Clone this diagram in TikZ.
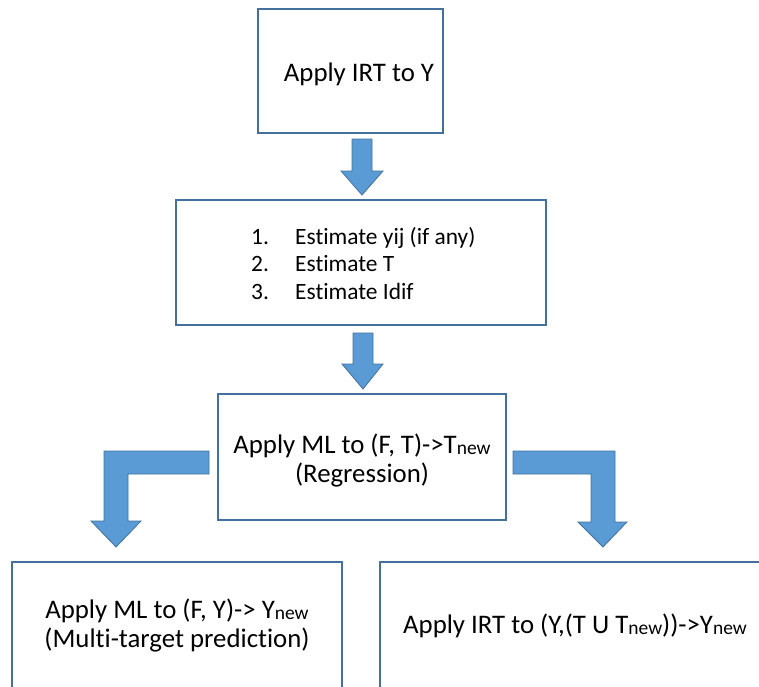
\documentclass[tikz,border=0pt]{standalone}
\usepackage{fontspec}
\setmainfont{Carlito}[Ligatures={NoCommon}]
\definecolor{boxline}{HTML}{41719C}
\definecolor{arrowfill}{HTML}{5B9BD5}
\definecolor{arrowline}{HTML}{41719C}
% small lowered "new" index used in the labels
\newcommand{\lowsub}[1]{\raisebox{-1.5pt}{\fontsize{19.5}{21}\selectfont #1}}
\begin{document}
\begin{tikzpicture}[x=1pt,y=-1pt,
  box/.style={draw=boxline, line width=1.3pt, fill=white, inner sep=0pt},
  blockarrow/.style={fill=arrowfill, draw=arrowline, line width=0.8pt, line join=miter},
  bigtxt/.style={font=\fontsize{26.8}{30}\selectfont, inner sep=0pt, anchor=base},
  listtxt/.style={font=\fontsize{23.4}{27}\selectfont, inner sep=0pt, anchor=base west}]

\useasboundingbox (0,0) rectangle (759,686);
\clip (0,0) rectangle (759,686);

% boxes (the two lower ones run past the bottom edge)
\node[box, minimum width=185pt, minimum height=124pt] (irt) at (350.5,71) {};
\node[box, minimum width=370pt, minimum height=125pt] (est) at (361,262.5) {};
\node[box, minimum width=288pt, minimum height=126pt] (reg) at (362,457) {};
\node[box, minimum width=330pt, minimum height=150pt] (mtp) at (177,637) {};
\node[box, minimum width=390pt, minimum height=150pt] (irtnew) at (575,637) {};

% labels
\node[bigtxt] (irtT) at (359,81) {Apply IRT to Y};

\node[listtxt] (n1) at (251,244) {1.};
\node[listtxt] (n2) at (251,271) {2.};
\node[listtxt] (n3) at (251,299) {3.};
\node[listtxt] (e1) at (295,244) {Estimate yij (if any)};
\node[listtxt] (e2) at (295,271) {Estimate T};
\node[listtxt] (e3) at (295,299) {Estimate Idif};

\node[bigtxt] (regA) at (362,453) {Apply ML to (F, T)->T\lowsub{new}};
\node[bigtxt] (regB) at (362,482) {(Regression)};

\node[bigtxt] (mtpA) at (177,618) {Apply ML to (F, Y)-> Y\lowsub{new}};
\node[bigtxt] (mtpB) at (177,647) {(Multi-target prediction)};

\node[bigtxt] (irtnewT) at (575,633) {Apply IRT to (Y,(T U T\lowsub{new}))->Y\lowsub{new}};

% straight block arrows
\draw[blockarrow] (352,139) -- (372,139) -- (372,171) -- (383,171) -- (362,195)
  -- (341,171) -- (352,171) -- cycle;
\draw[blockarrow] (353,333) -- (373,333) -- (373,364) -- (383,364) -- (363,389)
  -- (342,364) -- (353,364) -- cycle;

% bent block arrows
\draw[blockarrow] (209,451) -- (104,451) -- (104,521) -- (91,521) -- (116,547)
  -- (141,521) -- (128,521) -- (128,474) -- (209,474) -- cycle;
\draw[blockarrow] (513,451) -- (615,451) -- (615,522) -- (627,522) -- (603,547)
  -- (578,522) -- (591,522) -- (591,474) -- (513,474) -- cycle;
\end{tikzpicture}
\end{document}
